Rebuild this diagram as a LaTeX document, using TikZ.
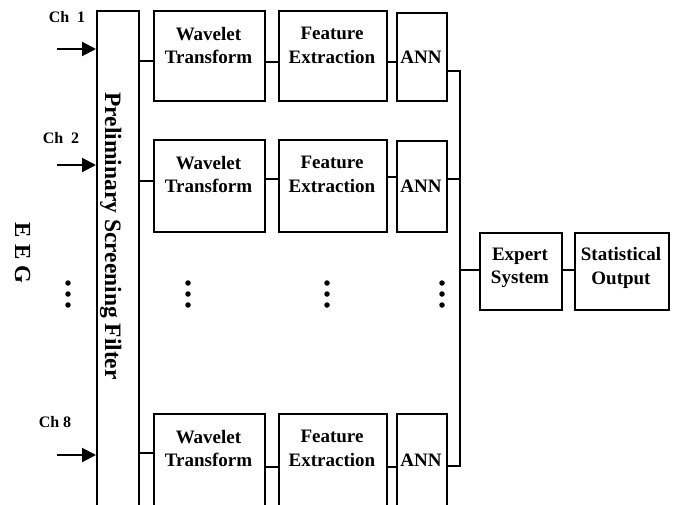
\documentclass[tikz,border=0pt]{standalone}
\usepackage{fontspec}
\setmainfont{Liberation Serif}
\usetikzlibrary{arrows.meta}
\begin{document}
\begin{tikzpicture}[x=1pt,y=-1pt,
  blk/.style={draw, line width=2.1pt, inner sep=0pt, anchor=north west},
  lbl/.style={font=\fontsize{19}{23.5}\selectfont\bfseries, align=center, inner sep=0pt},
  wire/.style={line width=2.1pt},
  chan/.style={font=\fontsize{16}{18}\selectfont\bfseries, inner sep=0pt, anchor=base},
  inarrow/.style={line width=2.1pt, -{Triangle[length=14pt,width=14pt]}},
  vdot/.style={circle, fill, inner sep=0pt, minimum size=5.5pt}]
\useasboundingbox (0,0) rectangle (676,504);
\clip (0,0) rectangle (676,504);

% preliminary screening filter
\node[blk, minimum width=42pt, minimum height=500pt] (filter) at (96,10) {};
\node[font=\fontsize{23.5}{26}\selectfont\bfseries, rotate=-90, anchor=base, inner sep=0pt] (ftext) at (105,236) {Preliminary Screening Filter};

% EEG label
\node[font=\fontsize{23}{26}\selectfont\bfseries, rotate=-90, anchor=base, inner sep=0pt] (eeg) at (15,253) {E E G};

% channels
\node[chan] (ch1) at (67,22) {Ch~~1};
\node[chan] (ch2) at (61,143) {Ch~~2};
\node[chan] (ch8) at (55,427) {Ch 8};
\coordinate (i1) at (57,49);
\coordinate (i2) at (57,165);
\coordinate (i8) at (57,455);
\draw[inarrow] (i1) -- (filter.west |- i1);
\draw[inarrow] (i2) -- (filter.west |- i2);
\draw[inarrow] (i8) -- (filter.west |- i8);

% row 1
\node[blk, minimum width=111pt, minimum height=90pt] (w1) at (153,10) {};
\node[blk, minimum width=108pt, minimum height=90pt] (f1) at (278,10) {};
\node[blk, minimum width=50pt, minimum height=88pt] (a1) at (396,12) {};
\node[lbl] (w1t) at (208.5,45.5) {Wavelet\\Transform};
\node[lbl] (f1t) at (332,45.5) {Feature\\Extraction};
\node[lbl] (a1t) at (421,57) {ANN};

% row 2
\node[blk, minimum width=111pt, minimum height=92pt] (w2) at (153,139) {};
\node[blk, minimum width=108pt, minimum height=92pt] (f2) at (278,139) {};
\node[blk, minimum width=50pt, minimum height=91pt] (a2) at (396,140) {};
\node[lbl] (w2t) at (208.5,174.5) {Wavelet\\Transform};
\node[lbl] (f2t) at (332,174.5) {Feature\\Extraction};
\node[lbl] (a2t) at (421,186) {ANN};

% row 3
\node[blk, minimum width=111pt, minimum height=95pt] (w3) at (153,413) {};
\node[blk, minimum width=108pt, minimum height=95pt] (f3) at (278,413) {};
\node[blk, minimum width=50pt, minimum height=95pt] (a3) at (396,413) {};
\node[lbl] (w3t) at (208.5,448.5) {Wavelet\\Transform};
\node[lbl] (f3t) at (332,448.5) {Feature\\Extraction};
\node[lbl] (a3t) at (421,460) {ANN};

% row connectors
\draw[wire] (filter.east |- 0,61) -- (w1.west |- 0,61);
\draw[wire] (w1.east |- 0,62) -- (f1.west |- 0,62);
\draw[wire] (f1.east |- 0,62) -- (a1.west |- 0,62);
\draw[wire] (filter.east |- 0,181) -- (w2.west |- 0,181);
\draw[wire] (w2.east |- 0,179) -- (f2.west |- 0,179);
\draw[wire] (f2.east |- 0,177) -- (a2.west |- 0,177);
\draw[wire] (filter.east |- 0,453) -- (w3.west |- 0,453);
\draw[wire] (w3.east |- 0,467) -- (f3.west |- 0,467);
\draw[wire] (f3.east |- 0,467) -- (a3.west |- 0,467);

% output bus
\coordinate (b1) at (460,71);
\coordinate (b2) at (460,179);
\coordinate (b3) at (460,466);
\coordinate (be) at (460,270);
\draw[wire] (a1.east |- b1) -- (b1) -- (b3) -- (a3.east |- b3);
\draw[wire] (a2.east |- b2) -- (b2);

% expert system and output
\node[blk, minimum width=82pt, minimum height=77pt] (es) at (479,232) {};
\node[blk, minimum width=94pt, minimum height=77pt] (so) at (574,232) {};
\node[lbl] (est) at (520,268) {Expert\\System};
\node[lbl] (sot) at (621,268) {Statistical\\Output};
\draw[wire] (be) -- (es.west |- be);
\draw[wire] (es.east |- be) -- (so.west |- be);

% ellipsis dots
\foreach \x [count=\i] in {68,188,327,442}{
  \node[vdot] (d\i a) at (\x,283) {};
  \node[vdot] (d\i b) at (\x,294) {};
  \node[vdot] (d\i c) at (\x,305) {};
}
\end{tikzpicture}
\end{document}
